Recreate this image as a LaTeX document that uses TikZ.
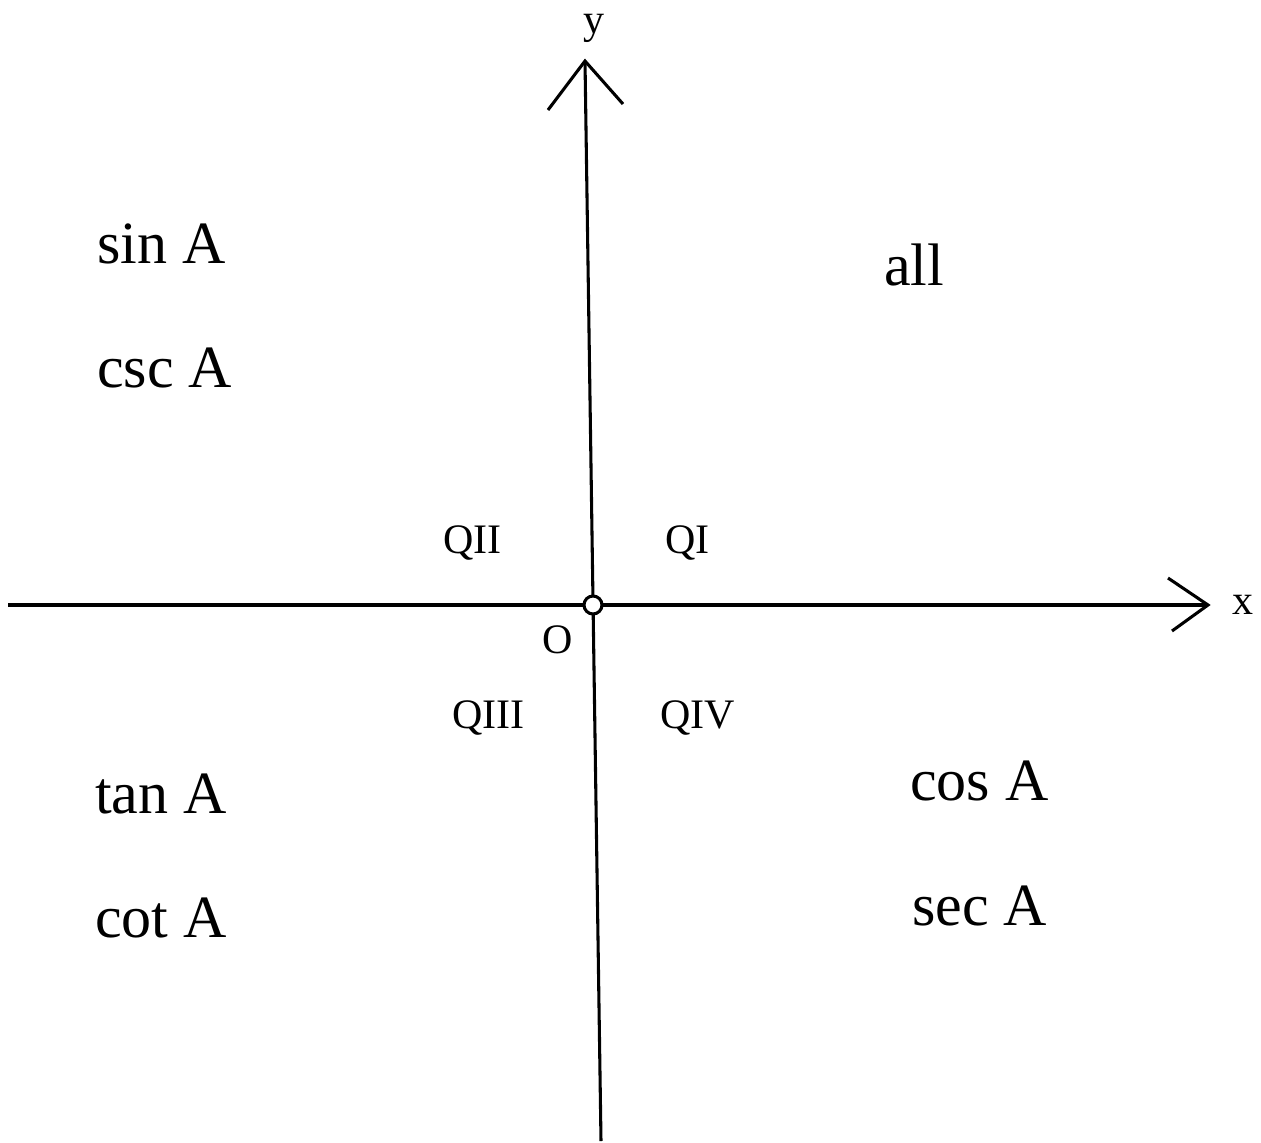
\documentclass[tikz,border=0pt]{standalone}
\usepackage{fontspec}
\setmainfont{Liberation Serif}
\begin{document}
\begin{tikzpicture}[x=0.75pt,y=-0.75pt,
  axis/.style={line width=2.3pt,line cap=butt},
  wing/.style={line width=2.3pt,line cap=butt,line join=miter},
  biglab/.style={anchor=base west,inner sep=0pt,font=\fontsize{45}{54}\selectfont},
  qlab/.style={anchor=base west,inner sep=0pt,font=\fontsize{31.5}{38}\selectfont},
  axlab/.style={anchor=base,inner sep=0pt,font=\fontsize{31.5}{38}\selectfont}]
\useasboundingbox (0,0) rectangle (1261,1143);
% axes end points
\coordinate (xleft) at (8,605);
\coordinate (xtip) at (1208,605);
\coordinate (xw1) at (1168,578);
\coordinate (xw2) at (1172,631);
\coordinate (ybot) at (601,1141);
\coordinate (ytip) at (585,61);
\coordinate (yw1) at (548,110);
\coordinate (yw2) at (623,104);
\draw[axis] (xleft) -- (xtip);
\draw[axis] (ybot) -- (ytip);
\draw[wing] (xw1) -- (xtip) -- (xw2);
\draw[wing] (yw1) -- (ytip) -- (yw2);
\node[circle,draw,line width=2.3pt,fill=white,minimum size=13.5pt,inner sep=0pt] (o) at (593,605) {};
% axis labels
\node[axlab] (ylab) at (594,33) {y};
\node[axlab] (xlab) at (1243,614) {x};
\node[axlab] (olab) at (558,653) {O};
% quadrant labels
\node[qlab] (q2) at (443,553) {QII};
\node[qlab] (q1) at (665,553) {QI};
\node[qlab] (q3) at (452,728) {QIII};
\node[qlab] (q4) at (660,728) {QIV};
% function labels
\node[biglab] (sin) at (97,263) {sin A};
\node[biglab] (csc) at (97,387) {csc A};
\node[biglab] (all) at (884,285) {all};
\node[biglab] (tan) at (95,813) {tan A};
\node[biglab] (cot) at (95,937) {cot A};
\node[biglab] (cos) at (910,800) {cos A};
\node[biglab] (sec) at (912,925) {sec A};
\end{tikzpicture}
\end{document}
